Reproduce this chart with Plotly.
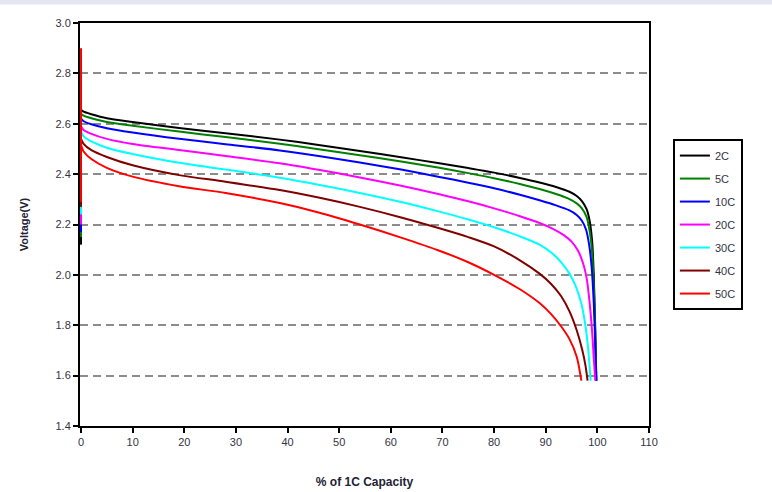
import plotly.graph_objects as go

# Discharge curves: voltage vs. % of 1C capacity at several C-rates
rates = ["2C", "5C", "10C", "20C", "30C", "40C", "50C"]
colors = ["#000000", "#008000", "#0000FF", "#FF00FF", "#00FFFF", "#800000", "#FF0000"]

# voltage step recorded at 0 % capacity (from -> to) for each rate
step_from = [2.12, 2.15, 2.17, 2.20, 2.24, 2.27, 2.29]
step_to = [2.655, 2.64, 2.62, 2.59, 2.57, 2.54, 2.90]

cap_2c = [0, 0.5, 2, 5, 10, 19, 28, 38.5, 46, 54, 62, 69.4, 75, 80, 85, 88.8, 92, 94.6, 96, 97, 97.9, 98.5, 99, 99.3, 99.6, 99.8]
volt_2c = [2.655, 2.648, 2.638, 2.622, 2.607, 2.583, 2.562, 2.537, 2.516, 2.492, 2.467, 2.443, 2.424, 2.406, 2.385, 2.367, 2.349, 2.33, 2.313, 2.293, 2.262, 2.215, 2.13, 2.0, 1.78, 1.58]

cap_5c = [0, 0.5, 2, 5, 10, 19, 28, 38.5, 46, 54, 62, 69.4, 75, 80, 85, 88.8, 92, 94.6, 96, 97, 97.9, 98.5, 99, 99.3, 99.6, 99.8]
volt_5c = [2.64, 2.632, 2.622, 2.607, 2.592, 2.569, 2.547, 2.521, 2.499, 2.475, 2.45, 2.425, 2.404, 2.384, 2.361, 2.341, 2.321, 2.301, 2.284, 2.264, 2.23, 2.175, 2.085, 1.96, 1.76, 1.58]

cap_10c = [0, 0.5, 2, 5, 10, 19, 28, 38.5, 46, 54, 62, 69.4, 75, 80, 85, 88.8, 92, 94.6, 96, 97, 97.8, 98.4, 98.9, 99.3, 99.6, 99.8]
volt_10c = [2.62, 2.61, 2.598, 2.582, 2.565, 2.54, 2.519, 2.494, 2.472, 2.446, 2.418, 2.389, 2.366, 2.344, 2.318, 2.296, 2.276, 2.256, 2.238, 2.215, 2.18, 2.12, 2.03, 1.89, 1.72, 1.58]

cap_20c = [0, 0.5, 2, 5, 10, 19, 28, 38.5, 46, 54, 62, 69.4, 75, 80, 85, 88.8, 91.3, 93.5, 95, 96.2, 97.2, 97.9, 98.5, 99, 99.3, 99.6]
volt_20c = [2.59, 2.575, 2.56, 2.54, 2.52, 2.496, 2.472, 2.443, 2.417, 2.387, 2.354, 2.32, 2.292, 2.264, 2.233, 2.206, 2.184, 2.158, 2.132, 2.098, 2.048, 1.99, 1.89, 1.77, 1.67, 1.58]

cap_30c = [0, 0.5, 2, 5, 10, 19, 28, 38.5, 46, 54, 62, 69.4, 75, 80, 85, 88.8, 91.3, 93, 94.6, 95.8, 96.9, 97.6, 98.2, 98.7]
volt_30c = [2.57, 2.55, 2.53, 2.505, 2.48, 2.445, 2.418, 2.386, 2.358, 2.325, 2.289, 2.251, 2.22, 2.189, 2.153, 2.12, 2.085, 2.05, 2.005, 1.955, 1.885, 1.81, 1.71, 1.58]

cap_40c = [0, 0.5, 2, 5, 10, 19, 28, 38.5, 46, 54, 62, 69.4, 75, 80, 85, 88.8, 91, 93, 94.6, 96, 97.1, 97.7, 98.1]
volt_40c = [2.54, 2.52, 2.495, 2.468, 2.435, 2.396, 2.37, 2.337, 2.307, 2.27, 2.228, 2.185, 2.15, 2.113, 2.058, 2.005, 1.965, 1.915, 1.855, 1.78, 1.70, 1.64, 1.58]

cap_50c = [0, 0.5, 2, 5, 10, 19, 28, 38.5, 46, 54, 62, 69.4, 75, 80, 85, 88.8, 91, 93, 94.6, 96, 96.9]
volt_50c = [2.515, 2.49, 2.46, 2.425, 2.39, 2.352, 2.325, 2.285, 2.248, 2.2, 2.148, 2.096, 2.05, 2.0, 1.943, 1.888, 1.845, 1.795, 1.745, 1.675, 1.58]

caps = [cap_2c, cap_5c, cap_10c, cap_20c, cap_30c, cap_40c, cap_50c]
volts = [volt_2c, volt_5c, volt_10c, volt_20c, volt_30c, volt_40c, volt_50c]

x_ticks = list(range(0, 111, 10))
y_ticks = [1.4, 1.6, 1.8, 2.0, 2.2, 2.4, 2.6, 2.8, 3.0]

FONT = "Liberation Sans, Arial, sans-serif"

fig = go.Figure()
for name, color, v0, v1, xs, ys in zip(rates, colors, step_from, step_to, caps, volts):
    # vertical step at the start of discharge
    fig.add_trace(go.Scatter(
        x=[0, 0], y=[v0, v1], mode="lines", showlegend=False, hoverinfo="skip",
        line=dict(color=color, width=2), legendgroup=name,
    ))
    fig.add_trace(go.Scatter(
        x=xs, y=ys, name=name, mode="lines",
        line=dict(color=color, width=2, shape="spline", smoothing=0.8),
        legendgroup=name,
    ))

axis_common = dict(
    showline=True, linecolor="#000000", linewidth=2, mirror=True,
    ticks="outside", ticklen=5, tickwidth=2, tickcolor="#000000",
    tickfont=dict(family=FONT, size=11, color="#333344"),
    zeroline=False, layer="below traces", automargin=False,
)

# start the x-axis a hair below zero so the traces at 0 % sit over the axis line
fig.update_xaxes(
    range=[-0.2, 110], tickvals=x_ticks, ticktext=[str(t) for t in x_ticks],
    showgrid=False,
    title=dict(text="<b>% of 1C Capacity</b>", font=dict(family=FONT, size=12, color="#222233"), standoff=30),
    **axis_common,
)
fig.update_yaxes(
    range=[1.4, 3.0], tickvals=y_ticks, ticktext=[f"{t:.1f}" for t in y_ticks],
    showgrid=True, gridcolor="#8c8c8c", gridwidth=2, griddash="8px,5px",
    title=dict(text="<b>Voltage(V)</b>", font=dict(family=FONT, size=11, color="#222233"), standoff=25),
    **axis_common,
)

# light tinted band along the top edge of the page
fig.add_shape(type="rect", xref="paper", yref="paper", x0=-0.2, x1=1.4, y0=1.046, y1=1.06,
              fillcolor="#e4e6f2", line_width=0, layer="below")

fig.update_layout(
    width=772, height=492,
    margin=dict(l=80, r=123, t=23, b=66),
    paper_bgcolor="#ffffff", plot_bgcolor="#ffffff",
    showlegend=True,
    legend=dict(
        x=1.042, y=0.712, xanchor="left", yanchor="top",
        bordercolor="#000000", borderwidth=2, bgcolor="#ffffff",
        font=dict(family=FONT, size=11, color="#333344"),
        tracegroupgap=4, itemwidth=30,
    ),
)

fig.write_html("out.html")
